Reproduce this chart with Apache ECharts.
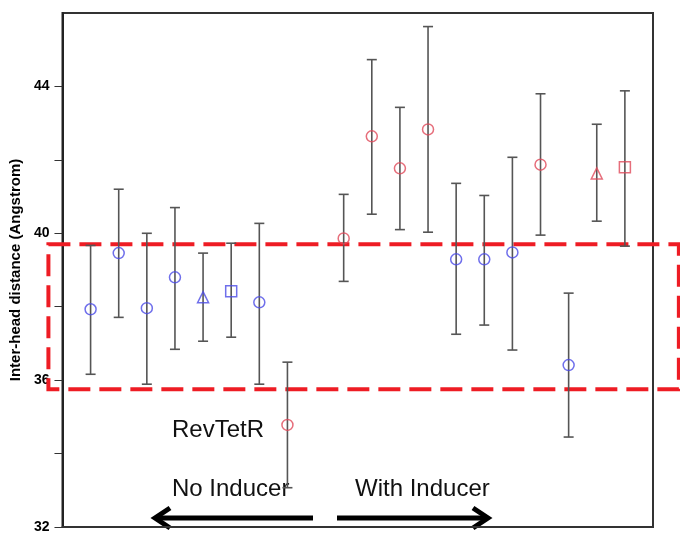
<!DOCTYPE html>
<html>
<head>
<meta charset="utf-8">
<script src="https://cdn.jsdelivr.net/npm/echarts@6/dist/echarts.min.js"></script>
<style>
  html, body { margin: 0; padding: 0; background: #fff; }
  #chart { width: 680px; height: 534px; }
</style>
</head>
<body>
<div id="chart"></div>
<script>
// slot positions on the x axis (slot 9 is the gap between the two groups)
const slots = [1, 2, 3, 4, 5, 6, 7, 8, 10, 11, 12, 13, 14, 15, 16, 17, 18, 19, 20];
const means = [37.93, 39.46, 37.96, 38.8, 38.26, 38.42, 38.12, 34.78,
               39.86, 42.64, 41.77, 42.83, 39.29, 39.29, 39.48, 41.87, 36.41, 41.63, 41.8];
const lows  = [36.16, 37.71, 35.89, 36.84, 37.06, 37.17, 35.89, 33.07,
               38.69, 40.52, 40.1, 40.03, 37.25, 37.5, 36.82, 39.95, 34.45, 40.33, 39.65];
const highs = [39.67, 41.2, 40.0, 40.7, 39.46, 39.73, 40.27, 36.49,
               41.06, 44.73, 43.43, 45.63, 41.36, 41.03, 42.07, 43.8, 38.37, 42.97, 43.88];
// b = blue, r = red
const colours = ['b', 'b', 'b', 'b', 'b', 'b', 'b', 'r',
                 'r', 'r', 'r', 'r', 'b', 'b', 'b', 'r', 'b', 'r', 'r'];
// o = circle, ^ = triangle, s = square
const shapes = ['o', 'o', 'o', 'o', '^', 's', 'o', 'o',
                'o', 'o', 'o', 'o', 'o', 'o', 'o', 'o', 'o', '^', 's'];
// dashed box: x from, y from, x to, y to
const band = [-0.5, 35.75, 21.92, 39.7];
const yTicks = [32, 34, 36, 38, 40, 42, 44];
const yLabels = [32, 36, 40, 44];

const colourMap = { b: '#4b4be6', r: '#e04a5a' };
const shapeMap = { o: 'circle', '^': 'triangle', s: 'rect' };

let chart = echarts.init(document.getElementById('chart'));

let barData = [];
let pointData = [];
for (let i = 0; i < slots.length; i++) {
  barData.push([slots[i], lows[i], highs[i]]);
  pointData.push({
    value: [slots[i], means[i]],
    symbol: shapeMap[shapes[i]],
    symbolSize: 11,
    itemStyle: { borderColor: colourMap[colours[i]] },
  });
}

let option = {
  animation: false,
  grid: {
    left: 62,
    right: 27,
    top: 13,
    bottom: 7,
    show: true,
    borderColor: '#333',
    borderWidth: 2,
  },
  xAxis: {
    type: 'value',
    min: 0,
    max: 21,
    axisLine: { show: true, lineStyle: { color: '#333', width: 2 } },
    axisTick: { show: false },
    axisLabel: { show: false },
    splitLine: { show: false },
  },
  yAxis: {
    type: 'value',
    min: 32,
    max: 46,
    interval: 2,
    name: 'Inter-head distance (Angstrom)',
    nameLocation: 'middle',
    nameGap: 35,
    nameTextStyle: {
      fontFamily: 'Liberation Sans',
      fontWeight: 'bold',
      fontSize: 15,
      color: '#000',
    },
    axisLine: { show: true, lineStyle: { color: '#222', width: 2 } },
    axisTick: {
      show: true,
      length: 8,
      customValues: yTicks,
      lineStyle: { color: '#333', width: 1 },
    },
    axisLabel: {
      margin: 13,
      fontFamily: 'Liberation Sans',
      fontWeight: 'bold',
      fontSize: 14,
      color: '#000',
      customValues: yLabels,
    },
    splitLine: { show: false },
  },
  series: [
    {
      // dashed red box
      type: 'custom',
      clip: false,
      silent: true,
      z: 1,
      data: [band],
      renderItem: (params, api) => {
        let p0 = api.coord([api.value(0), api.value(3)]);
        let p1 = api.coord([api.value(2), api.value(1)]);
        return {
          type: 'rect',
          shape: { x: p0[0], y: p0[1], width: p1[0] - p0[0], height: p1[1] - p0[1] },
          style: {
            fill: null,
            stroke: '#ee1c24',
            lineWidth: 4,
            lineDash: [22, 9],
          },
        };
      },
    },
    {
      // error bars
      type: 'custom',
      z: 2,
      data: barData,
      renderItem: (params, api) => {
        let top = api.coord([api.value(0), api.value(2)]);
        let bottom = api.coord([api.value(0), api.value(1)]);
        let hw = 5;
        let style = { stroke: '#555', lineWidth: 1.6 };
        return {
          type: 'group',
          children: [
            { type: 'line', shape: { x1: top[0], y1: top[1], x2: bottom[0], y2: bottom[1] }, style: style },
            { type: 'line', shape: { x1: top[0] - hw, y1: top[1], x2: top[0] + hw, y2: top[1] }, style: style },
            { type: 'line', shape: { x1: bottom[0] - hw, y1: bottom[1], x2: bottom[0] + hw, y2: bottom[1] }, style: style },
          ],
        };
      },
    },
    {
      type: 'scatter',
      z: 3,
      data: pointData,
      itemStyle: { color: 'rgba(255,255,255,0)', borderWidth: 1.5 },
    },
  ],
  graphic: [
    { type: 'text', left: 172, top: 418, style: { text: 'RevTetR', font: '24px "Liberation Sans"', fill: '#111' } },
    { type: 'text', left: 172, top: 477, style: { text: 'No Inducer', font: '24px "Liberation Sans"', fill: '#111' } },
    { type: 'text', left: 355, top: 477, style: { text: 'With Inducer', font: '24px "Liberation Sans"', fill: '#111' } },
    {
      type: 'group',
      children: [
        { type: 'line', shape: { x1: 313, y1: 518, x2: 156, y2: 518 }, style: { stroke: '#000', lineWidth: 5 } },
        { type: 'polyline', shape: { points: [[170, 508], [155, 518], [170, 528]] }, style: { stroke: '#000', lineWidth: 5, fill: null } },
        { type: 'line', shape: { x1: 337, y1: 518, x2: 487, y2: 518 }, style: { stroke: '#000', lineWidth: 5 } },
        { type: 'polyline', shape: { points: [[473, 508], [488, 518], [473, 528]] }, style: { stroke: '#000', lineWidth: 5, fill: null } },
      ],
    },
  ],
};

chart.setOption(option);
</script>
</body>
</html>
